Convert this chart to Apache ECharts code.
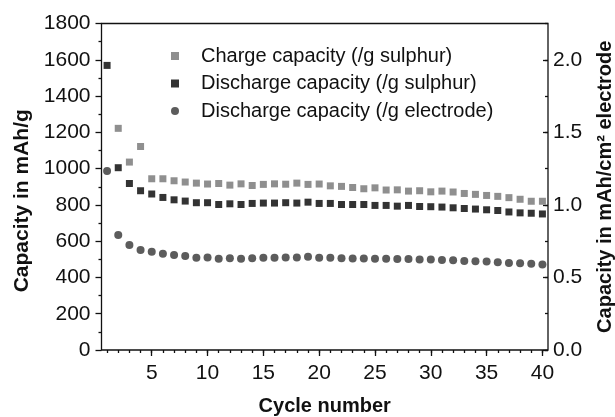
<!DOCTYPE html>
<html>
<meta charset="utf-8" />

<head>
  <script src="https://cdn.jsdelivr.net/npm/echarts@6.0.0/dist/echarts.min.js"></script>
  <style>
    html, body {
      margin: 0;
      padding: 0;
      background: #fff;
    }
    .chart {
      width: 615px;
      height: 417px;
    }
  </style>
</head>

<body>
  <div class="chart" id="capacity-chart"></div>
  <script>
    // cycle numbers (x)
    const cycles = [1, 2, 3, 4, 5, 6, 7, 8, 9, 10, 11, 12, 13, 14, 15, 16, 17, 18, 19, 20,
      21, 22, 23, 24, 25, 26, 27, 28, 29, 30, 31, 32, 33, 34, 35, 36, 37, 38, 39, 40];
    // mAh/g sulphur
    const chargeSulphur = [null, 1222, 1036, 1122, 944, 944, 933, 926, 920, 915, 918, 909, 916, 907, 913, 916, 914, 920, 913, 915,
      905, 902, 896, 889, 894, 882, 883, 876, 878, 872, 876, 871, 863, 858, 852, 847, 840, 831, 820, 820];
    const dischargeSulphur = [1569, 1005, 918, 878, 860, 841, 828, 821, 812, 812, 802, 806, 802, 808, 810, 810, 812, 810, 815, 808,
      808, 802, 802, 802, 797, 797, 793, 797, 791, 790, 788, 784, 780, 777, 773, 769, 761, 756, 754, 750];
    // mAh/cm2 electrode (right axis)
    const dischargeElectrode = [1.233, 0.793, 0.723, 0.689, 0.677, 0.663, 0.654, 0.647, 0.636, 0.638, 0.629, 0.633, 0.629, 0.633, 0.636, 0.636, 0.638, 0.638, 0.642, 0.636,
      0.636, 0.633, 0.631, 0.631, 0.629, 0.629, 0.627, 0.627, 0.624, 0.624, 0.620, 0.618, 0.613, 0.611, 0.610, 0.605, 0.600, 0.597, 0.594, 0.590];

    const xMajorTicks = [5, 10, 15, 20, 25, 30, 35, 40];
    const rightMajorTicks = [0, 0.5, 1.0, 1.5, 2.0];
    const seriesNames = [
      "Charge capacity (/g sulphur)",
      "Discharge capacity (/g sulphur)",
      "Discharge capacity (/g electrode)"
    ];

    const font = "'Liberation Sans', Arial, sans-serif";
    const ink = "#111";

    function pairs(values) {
      return cycles.map((c, i) => [c, values[i]]).filter((p) => p[1] != null);
    }

    const chart = echarts.init(document.getElementById("capacity-chart"));

    const option = {
      animation: false,
      textStyle: { fontFamily: font, color: ink },
      grid: {
        left: 101.5,
        right: 67,
        top: 23.5,
        bottom: 67,
        containLabel: false,
        outerBoundsMode: "none",
        show: true,
        borderColor: ink,
        borderWidth: 1.3,
      },
      legend: {
        orient: "vertical",
        left: 166,
        top: 41,
        itemWidth: 8,
        itemHeight: 8,
        itemGap: 7.5,
        data: seriesNames,
        textStyle: {
          fontFamily: font,
          fontSize: 20,
          lineHeight: 20,
          color: ink,
          padding: [0, 0, 0, 17],
        },
      },
      xAxis: [
        {
          type: "value",
          min: 0.5,
          max: 40.5,
          name: "Cycle number",
          nameLocation: "middle",
          nameGap: 46,
          nameTextStyle: { fontFamily: font, fontSize: 20, fontWeight: "bold", color: ink },
          axisLine: { show: false },
          axisTick: { show: true, customValues: xMajorTicks, length: 6, lineStyle: { color: ink, width: 1.3 } },
          axisLabel: { customValues: xMajorTicks, fontSize: 21, color: ink, margin: 13 },
          splitLine: { show: false },
        },
        {
          type: "value",
          min: 0.5,
          max: 40.5,
          position: "bottom",
          axisLine: { show: false },
          axisTick: { show: true, customValues: cycles, length: 3, lineStyle: { color: ink, width: 1.3 } },
          axisLabel: { show: false },
          splitLine: { show: false },
        },
      ],
      yAxis: [
        {
          type: "value",
          min: 0,
          max: 1800,
          interval: 200,
          position: "left",
          name: "Capacity in mAh/g",
          nameLocation: "middle",
          nameRotate: 90,
          nameGap: 58,
          nameTextStyle: { fontFamily: font, fontSize: 21, fontWeight: "bold", color: ink, padding: [0, 28, 0, 0] },
          axisLine: { show: false },
          axisTick: { show: true, length: 6, lineStyle: { color: ink, width: 1.3 } },
          minorTick: { show: true, splitNumber: 2, length: 3, lineStyle: { color: ink, width: 1.3 } },
          axisLabel: { fontSize: 21, color: ink, margin: 11, formatter: (v) => String(v) },
          splitLine: { show: false },
        },
        {
          type: "value",
          min: 0,
          max: 2.25,
          position: "right",
          name: "Capacity in mAh/cm² electrode",
          nameLocation: "middle",
          nameRotate: 90,
          nameGap: 47,
          nameTextStyle: { fontFamily: font, fontSize: 20, fontWeight: "bold", color: ink },
          axisLine: { show: false },
          axisTick: { show: true, inside: true, customValues: rightMajorTicks, length: 5, lineStyle: { color: ink, width: 1.3 } },
          axisLabel: {
            customValues: rightMajorTicks,
            fontSize: 21,
            color: ink,
            margin: 5,
            formatter: (v) => v.toFixed(1),
          },
          splitLine: { show: false },
        },
        {
          type: "value",
          min: 0,
          max: 2.25,
          interval: 0.25,
          position: "right",
          axisLine: { show: false },
          axisTick: { show: true, inside: true, length: 3, lineStyle: { color: ink, width: 1.3 } },
          axisLabel: { show: false },
          splitLine: { show: false },
        },
      ],
      series: [
        {
          name: seriesNames[0],
          type: "scatter",
          symbol: "rect",
          symbolSize: 7,
          itemStyle: { color: "#737373" },
          data: pairs(chargeSulphur),
        },
        {
          name: seriesNames[1],
          type: "scatter",
          symbol: "rect",
          symbolSize: 7,
          itemStyle: { color: "#000" },
          data: pairs(dischargeSulphur),
        },
        {
          name: seriesNames[2],
          type: "scatter",
          symbol: "circle",
          symbolSize: 8,
          yAxisIndex: 1,
          itemStyle: { color: "#333" },
          data: pairs(dischargeElectrode),
        },
      ],
    };

    chart.setOption(option);
  </script>
</body>

</html>
